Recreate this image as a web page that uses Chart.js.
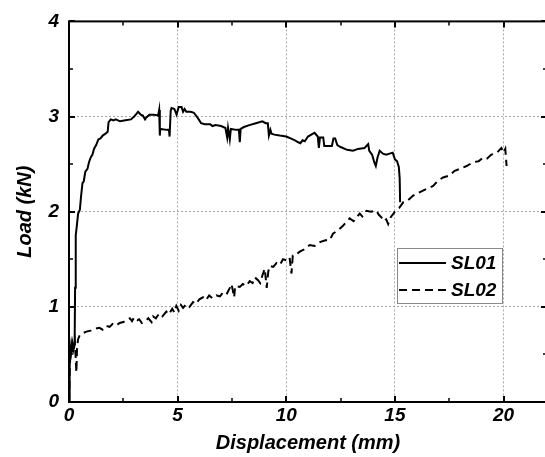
<!DOCTYPE html>
<html>
<head>
<meta charset="utf-8">
<script src="https://cdn.jsdelivr.net/npm/chart.js@4/dist/chart.umd.min.js"></script>
<style>
  html, body { margin: 0; padding: 0; background: #fff; overflow: hidden; }
  #wrap { width: 548px; height: 457px; }
</style>
</head>
<body>
<div id="wrap"><canvas id="loadChart" width="548" height="457"></canvas></div>
<script>
// load-displacement curves
const seriesNames = ['SL01', 'SL02'];

const sl01X = [0, 0.03, 0.05, 0.1, 0.15, 0.2, 0.26, 0.28, 0.31, 0.36, 0.42, 0.5, 0.55, 0.62, 0.68, 0.75, 0.85, 0.92, 1.0, 1.08,
  1.15, 1.25, 1.35, 1.45, 1.55, 1.68, 1.78, 1.82, 1.92, 2.05, 2.15, 2.35, 2.6, 2.85, 3.0, 3.18, 3.3, 3.4, 3.5, 3.56,
  3.7, 3.9, 4.1, 4.15, 4.18, 4.2, 4.5, 4.6, 4.63, 4.68, 4.72, 4.85, 4.95, 5.05, 5.18, 5.25, 5.32, 5.4, 5.6, 5.75,
  5.88, 6.0, 6.08, 6.25, 6.5, 6.6, 6.75, 7.0, 7.2, 7.28, 7.32, 7.4, 7.45, 7.7, 7.82, 7.86, 7.9, 8.05, 8.3, 8.6,
  8.9, 9.05, 9.15, 9.2, 9.27, 9.32, 9.45, 9.7, 10.0, 10.2, 10.4, 10.55, 10.65, 10.75, 10.85, 11.0, 11.15, 11.3, 11.45, 11.5,
  11.55, 11.7, 11.75, 12.1, 12.17, 12.25, 12.35, 12.5, 12.8, 13.07, 13.3, 13.6, 13.77, 13.82, 13.95, 14.05, 14.12, 14.2, 14.3, 14.45,
  14.6, 14.75, 14.9, 15.0, 15.1, 15.18, 15.22, 15.24];
const sl01Y = [0, 0.35, 0.6, 0.52, 0.62, 0.55, 0.62, 1.2, 1.75, 1.85, 1.98, 2.02, 2.15, 2.3, 2.32, 2.42, 2.45, 2.52, 2.57, 2.6,
  2.66, 2.7, 2.76, 2.77, 2.8, 2.82, 2.84, 2.94, 2.97, 2.96, 2.97, 2.95, 2.96, 2.97, 3.0, 3.05, 3.02, 3.01, 2.97, 2.99,
  3.02, 3.02, 3.01, 3.07, 2.8, 2.87, 2.86, 2.86, 2.79, 3.06, 3.09, 3.08, 3.02, 3.1, 3.1, 3.05, 3.08, 3.05, 3.05, 3.04,
  3.0, 2.96, 2.93, 2.92, 2.92, 2.9, 2.91, 2.9, 2.88, 2.78, 2.88, 2.76, 2.87, 2.86, 2.86, 2.73, 2.87, 2.89, 2.91, 2.93,
  2.95, 2.93, 2.93, 2.8, 2.86, 2.82, 2.81, 2.8, 2.79, 2.77, 2.75, 2.73, 2.72, 2.75, 2.74, 2.79, 2.81, 2.83, 2.79, 2.67,
  2.78, 2.78, 2.69, 2.69, 2.77, 2.77, 2.7, 2.68, 2.65, 2.64, 2.66, 2.67, 2.71, 2.64, 2.6, 2.52, 2.48, 2.57, 2.64, 2.61,
  2.6, 2.61, 2.62, 2.55, 2.53, 2.47, 2.35, 2.1];

const sl02X = [0, 0.03, 0.06, 0.1, 0.14, 0.18, 0.22, 0.27, 0.3, 0.34, 0.37, 0.42, 0.49, 0.6, 0.8, 1.0, 1.2, 1.4, 1.55, 1.7,
  1.87, 2.0, 2.15, 2.33, 2.5, 2.65, 2.8, 2.9, 3.0, 3.15, 3.23, 3.35, 3.5, 3.65, 3.8, 3.87, 4.0, 4.15, 4.3, 4.48,
  4.6, 4.75, 4.85, 4.94, 5.05, 5.15, 5.25, 5.4, 5.55, 5.71, 5.85, 6.0, 6.17, 6.3, 6.45, 6.6, 6.79, 6.95, 7.09, 7.25,
  7.4, 7.48, 7.55, 7.6, 7.65, 7.86, 8.0, 8.15, 8.32, 8.45, 8.55, 8.7, 8.8, 8.9, 9.01, 9.1, 9.17, 9.24, 9.4, 9.55,
  9.7, 9.85, 10.0, 10.15, 10.24, 10.3, 10.45, 10.62, 10.8, 11.08, 11.3, 11.55, 11.8, 12.0, 12.15, 12.35, 12.6, 12.92, 13.1, 13.38,
  13.5, 13.69, 13.9, 14.15, 14.25, 14.38, 14.5, 14.6, 14.69, 14.8, 15.0, 15.2, 15.39, 15.6, 15.84, 16.1, 16.45, 16.76, 17.0, 17.22,
  17.5, 17.75, 17.99, 18.3, 18.6, 18.85, 19.06, 19.25, 19.44, 19.7, 19.9, 20.0, 20.08, 20.14];
const sl02Y = [0, 0.3, 0.5, 0.6, 0.52, 0.6, 0.55, 0.62, 0.5, 0.31, 0.58, 0.66, 0.7, 0.72, 0.74, 0.75, 0.77, 0.78, 0.76, 0.8,
  0.79, 0.82, 0.8, 0.83, 0.84, 0.86, 0.88, 0.85, 0.89, 0.86, 0.87, 0.83, 0.85, 0.88, 0.84, 0.9, 0.88, 0.93, 0.9, 0.95,
  0.92, 0.98, 0.94, 1.01, 0.96, 1.02, 0.99, 1.03, 1.0, 1.05, 1.03, 1.08, 1.1, 1.07, 1.12, 1.09, 1.12, 1.11, 1.15, 1.13,
  1.2, 1.24, 1.16, 1.1, 1.22, 1.21, 1.24, 1.22, 1.27, 1.25, 1.31, 1.28, 1.25, 1.33, 1.4, 1.2, 1.37, 1.43, 1.42, 1.46,
  1.44, 1.5, 1.49, 1.52, 1.35, 1.54, 1.55, 1.58, 1.6, 1.65, 1.64, 1.68, 1.7, 1.7, 1.77, 1.8, 1.85, 1.93, 1.9, 1.98,
  1.95, 2.01, 2.0, 2.01, 1.97, 1.94, 1.9, 1.92, 1.87, 1.94, 2.0, 2.04, 2.1, 2.12, 2.17, 2.2, 2.24, 2.27, 2.33, 2.36,
  2.38, 2.43, 2.45, 2.48, 2.52, 2.53, 2.57, 2.56, 2.6, 2.62, 2.67, 2.62, 2.66, 2.48];

const xTicks = [0, 5, 10, 15, 20];
const yTicks = [0, 1, 2, 3, 4];

const toPoints = (xs, ys) => xs.map((x, i) => ({ x: x, y: ys[i] }));

const fontFamily = '"Liberation Sans", Arial, sans-serif';
const boldItalic = size => ({ family: fontFamily, size: size, weight: 'bold', style: 'italic' });

// frame, inward ticks on all four sides (major + minor)
const framePlugin = {
  id: 'frame',
  afterDatasetsDraw(chart) {
    const { ctx, chartArea: a, scales: { x, y } } = chart;
    ctx.save();
    ctx.strokeStyle = '#000';
    ctx.lineCap = 'butt';
    const tick = (x1, y1, x2, y2, w) => {
      ctx.lineWidth = w;
      ctx.beginPath();
      ctx.moveTo(x1, y1);
      ctx.lineTo(x2, y2);
      ctx.stroke();
    };
    for (let v = 0; v <= 22; v += 2.5) {
      const px = Math.round(x.getPixelForValue(v));
      const major = v % 5 === 0;
      const len = major ? 6 : 4;
      tick(px, a.bottom, px, a.bottom - len, major ? 2 : 1.5);
      tick(px, a.top, px, a.top + len, major ? 2 : 1.5);
    }
    for (let v = 0; v <= 4; v += 0.5) {
      const py = Math.round(y.getPixelForValue(v));
      const major = v % 1 === 0;
      const len = major ? 6 : 4;
      tick(a.left, py, a.left + len, py, major ? 2 : 1.5);
      tick(a.right, py, a.right - len, py, major ? 2 : 1.5);
    }
    ctx.lineWidth = 2;
    ctx.strokeRect(a.left, a.top, a.right - a.left, a.bottom - a.top);
    ctx.restore();
  }
};

// legend box inside the plot, lower right
const legendPlugin = {
  id: 'insideLegend',
  afterDraw(chart) {
    const { ctx } = chart;
    const bx = 397, by = 248, bw = 105, bh = 55;
    ctx.save();
    ctx.fillStyle = '#fff';
    ctx.fillRect(bx, by, bw, bh);
    ctx.strokeStyle = '#8a8a8a';
    ctx.lineWidth = 1;
    ctx.strokeRect(bx + 0.5, by + 0.5, bw, bh);
    chart.data.datasets.forEach((ds, i) => {
      const cy = by + 15 + i * 27;
      ctx.strokeStyle = ds.borderColor;
      ctx.lineWidth = ds.borderWidth;
      ctx.setLineDash(ds.borderDash || []);
      ctx.beginPath();
      ctx.moveTo(bx + 2, cy);
      ctx.lineTo(bx + 49, cy);
      ctx.stroke();
      ctx.setLineDash([]);
      ctx.fillStyle = '#000';
      ctx.font = 'italic bold 19px ' + fontFamily;
      ctx.textBaseline = 'middle';
      ctx.textAlign = 'left';
      ctx.fillText(ds.label, bx + 54, cy + 1);
    });
    ctx.restore();
  }
};

new Chart(document.getElementById('loadChart').getContext('2d'), {
  type: 'line',
  data: {
    datasets: [
      {
        label: seriesNames[0],
        data: toPoints(sl01X, sl01Y),
        borderColor: '#000',
        borderWidth: 2,
        pointRadius: 0,
        tension: 0,
        fill: false
      },
      {
        label: seriesNames[1],
        data: toPoints(sl02X, sl02Y),
        borderColor: '#000',
        borderWidth: 2,
        borderDash: [8, 5],
        pointRadius: 0,
        tension: 0,
        fill: false
      }
    ]
  },
  options: {
    responsive: false,
    animation: false,
    devicePixelRatio: 1,
    layout: { padding: { top: 17, right: 1, left: 0, bottom: 0 } },
    plugins: {
      legend: { display: false },
      tooltip: { enabled: false }
    },
    scales: {
      x: {
        type: 'linear',
        min: 0,
        max: 22,
        afterFit: s => { s.height = 55; },
        afterBuildTicks: s => { s.ticks = xTicks.map(v => ({ value: v })); },
        border: { display: false, dash: [2, 2] },
        grid: { color: '#a8a8a8', lineWidth: 1, drawTicks: false },
        ticks: { color: '#000', font: boldItalic(19), padding: 2, maxRotation: 0 },
        title: { display: true, text: 'Displacement (mm)', color: '#000', font: boldItalic(20), padding: { top: 0, bottom: 2 } }
      },
      y: {
        type: 'linear',
        min: 0,
        max: 4,
        afterFit: s => { s.width = 69; },
        afterBuildTicks: s => { s.ticks = yTicks.map(v => ({ value: v })); },
        border: { display: false, dash: [2, 2] },
        grid: { color: '#a8a8a8', lineWidth: 1, drawTicks: false },
        ticks: { color: '#000', font: boldItalic(19), padding: 10 },
        title: { display: true, text: 'Load (kN)', color: '#000', font: boldItalic(20), padding: { top: 13, bottom: 0 } }
      }
    }
  },
  plugins: [framePlugin, legendPlugin]
});
</script>
</body>
</html>
